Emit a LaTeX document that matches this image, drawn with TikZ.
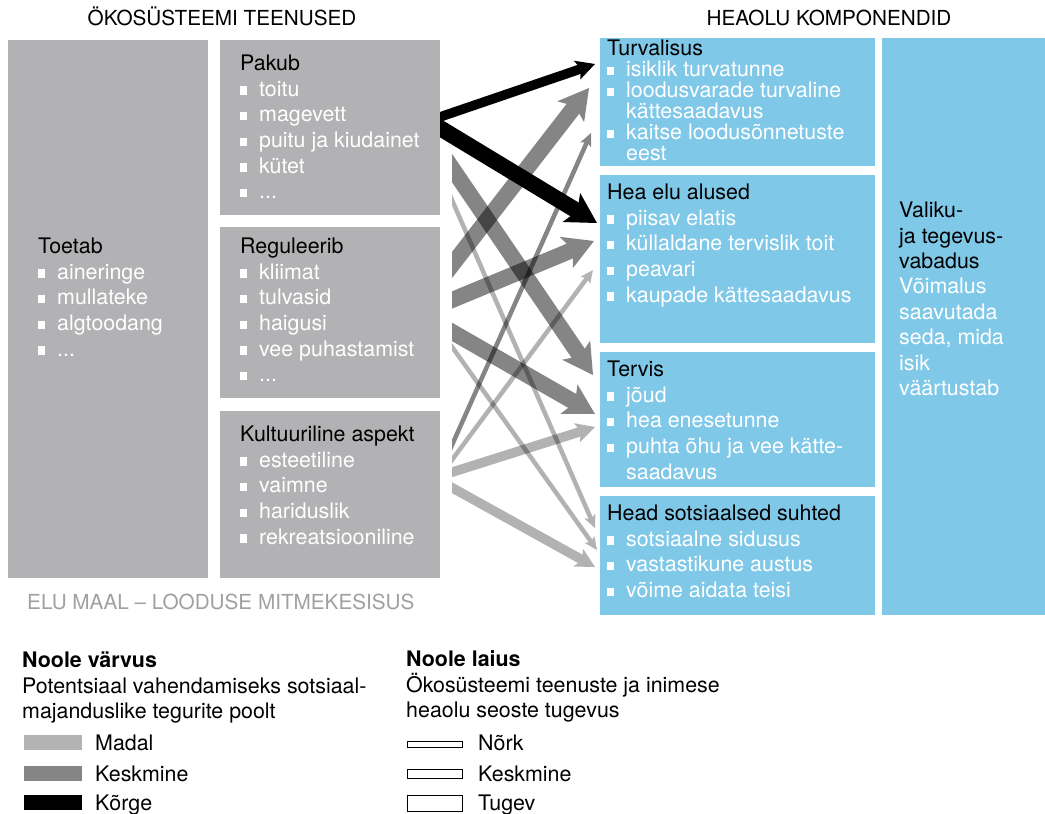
\documentclass[tikz,border=0pt]{standalone}
\usepackage{fontspec}
\setmainfont{TeX Gyre Heros}
\usetikzlibrary{arrows.meta}

\definecolor{stonegray}{RGB}{178,178,180}
\definecolor{skyblue}{RGB}{128,200,232}
\definecolor{lowgray}{RGB}{179,179,179}
\definecolor{midgray}{RGB}{133,133,133}
\definecolor{capgray}{RGB}{160,160,160}

% white list items
\newcommand{\capstrut}{\rule{0pt}{21pt}}
\newcommand{\bul}[1]{{\color{white}\raisebox{1.5pt}{\rule{7pt}{8.5pt}}\hspace{12pt}#1}}
\newcommand{\contd}[1]{{\color{white}\hspace*{19pt}#1}}
\newcommand{\wtxt}[1]{{\color{white}#1}}
% one see-through arrow
\newcommand{\flow}[4]{\begin{scope}[transparency group, opacity=#1]\draw[#2] (#3) -- (#4);\end{scope}}

\begin{document}
\begin{tikzpicture}[x=1pt, y=-1pt,
  gbox/.style={fill=stonegray, anchor=north west, inner sep=0pt, outer sep=0pt},
  bbox/.style={fill=skyblue, anchor=north west, inner sep=0pt, outer sep=0pt},
  body/.style={font=\fontsize{21.4}{25.6}\selectfont, align=left, anchor=north west, inner sep=0pt},
  tight/.style={body, font=\fontsize{21.4}{21}\selectfont},
  caps/.style={font=\fontsize{20.7}{25}\selectfont, inner sep=0pt, anchor=base},
  legend/.style={font=\fontsize{21.4}{25}\selectfont, inner sep=0pt, anchor=base west},
  thinflow/.style={line width=4.5pt, -{Stealth[length=13pt, width=12pt, inset=3pt, line width=0pt]}},
  midflow/.style={line width=9.5pt, -{Stealth[length=19pt, width=20pt, inset=4pt, line width=0pt]}},
  thickflow/.style={line width=16pt, -{Stealth[length=30pt, width=34pt, inset=7pt, line width=0pt]}}]
\useasboundingbox (0,0) rectangle (1045,814);

% headings
\node[caps] (ecohead) at (222,25.4) {ÖKOSÜSTEEMI TEENUSED};
\node[caps] (wellhead) at (829,25.4) {HEAOLU KOMPONENDID};

% ecosystem services
\node[gbox, minimum width=200pt, minimum height=538pt] (toetab) at (8,40) {};
\node[gbox, minimum width=220pt, minimum height=175pt] (pakub) at (220,40) {};
\node[gbox, minimum width=220pt, minimum height=171pt] (regul) at (220,227) {};
\node[gbox, minimum width=220pt, minimum height=167pt] (kultuur) at (220,411) {};

\node[body] (toetabtxt) at (38,232.5) {\capstrut Toetab\\ \bul{aineringe}\\ \bul{mullateke}\\ \bul{algtoodang}\\ \bul{...}};
\node[body] (pakubtxt) at (240,49.5) {\capstrut Pakub\\ \bul{toitu}\\ \bul{magevett}\\ \bul{puitu ja kiudainet}\\ \bul{kütet}\\ \bul{...}};
\node[body] (regultxt) at (240,232.5) {\capstrut Reguleerib\\ \bul{kliimat}\\ \bul{tulvasid}\\ \bul{haigusi}\\ \bul{vee puhastamist}\\ \bul{...}};
\node[body] (kultuurtxt) at (240,420.5) {\capstrut Kultuuriline aspekt\\ \bul{esteetiline}\\ \bul{vaimne}\\ \bul{hariduslik}\\ \bul{rekreatsiooniline}};

\node[caps, anchor=base west, text=capgray] (elumaal) at (27,609.5) {ELU MAAL – LOODUSE MITMEKESISUS};

% well-being components
\node[bbox, minimum width=275pt, minimum height=128pt] (turv) at (600,38) {};
\node[bbox, minimum width=275pt, minimum height=168pt] (heaelu) at (600,175) {};
\node[bbox, minimum width=275pt, minimum height=135pt] (tervis) at (600,352) {};
\node[bbox, minimum width=275pt, minimum height=119pt] (sots) at (600,496) {};
\node[bbox, minimum width=163pt, minimum height=577pt] (valiku) at (882,38) {};

\node[tight] (turvtxt) at (607,34.5) {\capstrut Turvalisus\\ \bul{isiklik turvatunne}\\ \bul{loodusvarade turvaline}\\ \contd{kättesaadavus}\\ \bul{kaitse loodusõnnetuste}\\ \contd{eest}};
\node[body] (heaelutxt) at (607,178.5) {\capstrut Hea elu alused\\ \bul{piisav elatis}\\ \bul{küllaldane tervislik toit}\\ \bul{peavari}\\ \bul{kaupade kättesaadavus}};
\node[body] (tervistxt) at (607,355.5) {\capstrut Tervis\\ \bul{jõud}\\ \bul{hea enesetunne}\\ \bul{puhta õhu ja vee kätte-}\\ \contd{saadavus}};
\node[body] (sotstxt) at (607,499.5) {\capstrut Head sotsiaalsed suhted\\ \bul{sotsiaalne sidusus}\\ \bul{vastastikune austus}\\ \bul{võime aidata teisi}};
\node[body, font=\fontsize{21.4}{25.4}\selectfont] (valikutxt) at (899,196.5) {\capstrut Valiku-\\ ja tegevus-\\ vabadus\\ \wtxt{Võimalus}\\ \wtxt{saavutada}\\ \wtxt{seda, mida}\\ \wtxt{isik}\\ \wtxt{väärtustab}};

% arrow ends
\coordinate (pk-a) at (434,119);
\coordinate (pk-b) at (434,124.4);
\coordinate (pk-c) at (440,150.4);
\coordinate (pk-d) at (440,172.5);
\coordinate (rg-a) at (440,280.5);
\coordinate (rg-b) at (440,305);
\coordinate (rg-c) at (440,325);
\coordinate (rg-d) at (440,330);
\coordinate (ku-a) at (440,472);
\coordinate (ku-b) at (440,476);
\coordinate (ku-c) at (440,476);
\coordinate (ku-d) at (440,481);
\coordinate (tv-a) at (595,64);
\coordinate (tv-b) at (589,88);
\coordinate (tv-c) at (591,133);
\coordinate (he-a) at (597,223);
\coordinate (he-b) at (594,241);
\coordinate (he-c) at (593,270);
\coordinate (te-a) at (593,375);
\coordinate (te-b) at (595,414);
\coordinate (te-c) at (595,427);
\coordinate (so-a) at (595,528);
\coordinate (so-b) at (597,550);
\coordinate (so-c) at (595,567);

% grey arrows
\begin{scope}
  \clip (452,30) rectangle (610,620);
  \flow{0.48}{thickflow}{pk-c}{te-a}
  \flow{0.30}{thinflow}{pk-d}{so-a}
  \flow{0.48}{thickflow}{rg-a}{tv-b}
  \flow{0.48}{thickflow}{rg-b}{he-b}
  \flow{0.48}{thickflow}{rg-c}{te-b}
  \flow{0.30}{thinflow}{rg-d}{so-b}
  \flow{0.48}{thinflow}{ku-a}{tv-c}
  \flow{0.30}{thinflow}{ku-b}{he-c}
  \flow{0.30}{midflow}{ku-c}{te-c}
  \flow{0.30}{midflow}{ku-d}{so-c}
\end{scope}

% black arrows
\begin{scope}
  \clip (440,30) rectangle (610,620);
  \draw[midflow] (pk-a) -- (tv-a);
  \draw[thickflow] (pk-b) -- (he-a);
\end{scope}

% legend: colour
\node[legend, font=\bfseries\fontsize{21.4}{25}\selectfont] (colhead) at (22,667.5) {Noole värvus};
\node[body, font=\fontsize{21.4}{25}\selectfont] (coltxt) at (22,672.5) {\capstrut Potentsiaal vahendamiseks sotsiaal-\\ majanduslike tegurite poolt};
\fill[lowgray] (24,735) rectangle (82,750);
\fill[midgray] (24,766) rectangle (82,781);
\fill[black] (24,795) rectangle (82,810);
\node[legend] (madal) at (95,750.5) {Madal};
\node[legend] (keskm) at (95,781.5) {Keskmine};
\node[legend] (korge) at (95,810.5) {Kõrge};

% legend: width
\node[legend, font=\bfseries\fontsize{21.4}{25}\selectfont] (widhead) at (406,666.5) {Noole laius};
\node[body, font=\fontsize{21.4}{25}\selectfont] (widtxt) at (406,671.5) {\capstrut Ökosüsteemi teenuste ja inimese\\ heaolu seoste tugevus};
\draw[line width=0.9pt] (407.5,741.5) rectangle (462.5,747);
\draw[line width=0.9pt] (407.5,769.5) rectangle (462.5,778.5);
\draw[line width=0.9pt] (407.5,795) rectangle (462.5,811);
\node[legend] (nork) at (478,750.5) {Nõrk};
\node[legend] (keskw) at (478,781.5) {Keskmine};
\node[legend] (tugev) at (478,810.5) {Tugev};
\end{tikzpicture}
\end{document}
